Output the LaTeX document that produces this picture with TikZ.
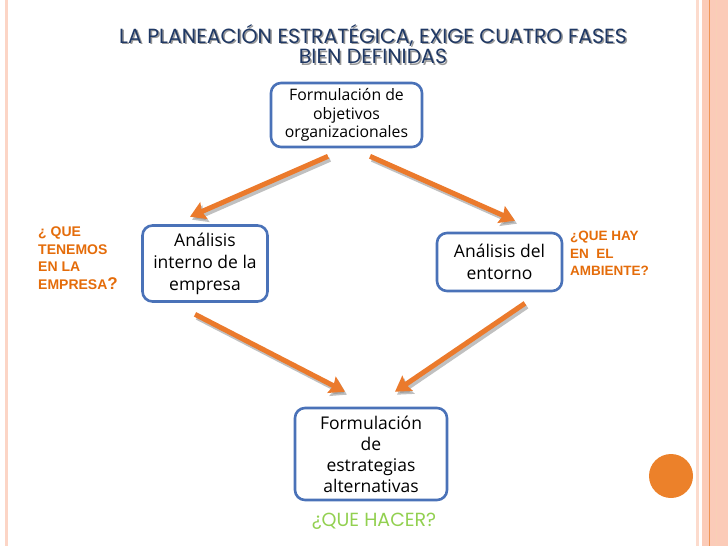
\documentclass[tikz,border=0pt]{standalone}
\usepackage{fontspec}
\setmainfont{Open Sans}
\newfontfamily\titfont{Poppins}
\newfontfamily\arialfont{Liberation Sans}
\usetikzlibrary{arrows.meta}

\definecolor{azulborde}{HTML}{4A72B8}
\definecolor{naranja}{HTML}{EB7A2C}
\definecolor{naranjatxt}{HTML}{E46C0A}
\definecolor{verdetxt}{HTML}{92D050}
\definecolor{azultit}{HTML}{1F3864}
\definecolor{rosa}{HTML}{FBCBB8}

\tikzset{
  caja/.style={draw=azulborde,line width=2.6pt,rounded corners=10pt,fill=white,
    align=center,inner sep=1pt,font=\fontsize{17.5}{22}\selectfont},
  flecha/.style={->,naranja,line width=5pt},
  sombra/.style={->,black!45,opacity=0.55,line width=5pt},
  pregunta/.style={naranjatxt,align=left,anchor=north west,inner sep=0pt,
    font=\arialfont\bfseries\fontsize{13.5}{17.5}\selectfont}
}

\begin{document}
\begin{tikzpicture}[x=1pt,y=-1pt,>={Stealth[length=15pt,width=18pt,inset=2pt]}]
  \useasboundingbox (0,0) rectangle (728,546);
  % bordes de la diapositiva
  \fill[rosa!80] (5,0) rectangle (7.5,546);
  \fill[rosa!70] (696,0) rectangle (698.5,546);
  \fill[rosa] (702,0) rectangle (708.5,546);
  \fill[rosa] (710,0) rectangle (728,546);
  \draw[naranja!80,line width=0.8pt] (709.2,0) -- (709.2,546);
  \draw[naranja!35,line width=0.6pt] (716,0) -- (716,546);
  \fill[naranja!95!yellow] (671,476) circle (22);
  % titulo
  \node[align=center,text=black!40,font=\titfont\fontsize{20.5}{20.5}\selectfont] (titsombra) at (374.5,45.5)
    {LA PLANEACIÓN ESTRATÉGICA, EXIGE CUATRO FASES\\BIEN DEFINIDAS};
  \node[align=center,text=azultit,font=\titfont\fontsize{20.5}{20.5}\selectfont] (titulo) at (373,44)
    {LA PLANEACIÓN ESTRATÉGICA, EXIGE CUATRO FASES\\BIEN DEFINIDAS};
  % las cuatro fases
  \node[caja,minimum width=151,minimum height=64,font=\fontsize{15.8}{18.5}\selectfont] (obj) at (346.5,115)
    {Formulación de\\objetivos\\organizacionales};
  \node[caja,minimum width=125,minimum height=76] (interno) at (205,263.5)
    {Análisis\\interno de la\\empresa};
  \node[caja,minimum width=125,minimum height=58] (entorno) at (499.5,262)
    {Análisis del\\entorno};
  \node[caja,minimum width=152,minimum height=92,font=\fontsize{17.5}{21}\selectfont] (estrat) at (371,454)
    {Formulación\\de\\estrategias\\alternativas};
  % preguntas
  \node[pregunta,font=\arialfont\bfseries\fontsize{14}{17.5}\selectfont] (qtenemos) at (38,227)
    {¿ QUE\\TENEMOS\\EN LA\\EMPRESA{\fontsize{17}{17.5}\selectfont?}};
  \node[pregunta] (qambiente) at (570,231)
    {¿QUE HAY\\EN\ \ EL\\AMBIENTE?};
  \node[text=verdetxt,font=\titfont\fontsize{19}{21}\selectfont] (qhacer) at (374,521) {¿QUE HACER?};
  % flechas (sombra y luego flecha)
  \draw[sombra,transform canvas={xshift=2pt,yshift=-3pt}] ([shift={(-18.5,8)}]obj.south) -- ([shift={(-15,-7.5)}]interno.north);
  \draw[flecha] ([shift={(-18.5,8)}]obj.south) -- ([shift={(-15,-7.5)}]interno.north);
  \draw[sombra,transform canvas={xshift=2pt,yshift=-3pt}] ([shift={(23.5,8)}]obj.south) -- ([shift={(15.5,-11)}]entorno.north);
  \draw[flecha] ([shift={(23.5,8)}]obj.south) -- ([shift={(15.5,-11)}]entorno.north);
  \draw[sombra,transform canvas={xshift=2pt,yshift=-3pt}] ([shift={(-10,11.5)}]interno.south) -- ([shift={(-26,-15)}]estrat.north);
  \draw[flecha] ([shift={(-10,11.5)}]interno.south) -- ([shift={(-26,-15)}]estrat.north);
  \draw[sombra,transform canvas={xshift=2pt,yshift=-3pt}] ([shift={(25.5,11)}]entorno.south) -- ([shift={(24,-15)}]estrat.north);
  \draw[flecha] ([shift={(25.5,11)}]entorno.south) -- ([shift={(24,-15)}]estrat.north);
\end{tikzpicture}
\end{document}
